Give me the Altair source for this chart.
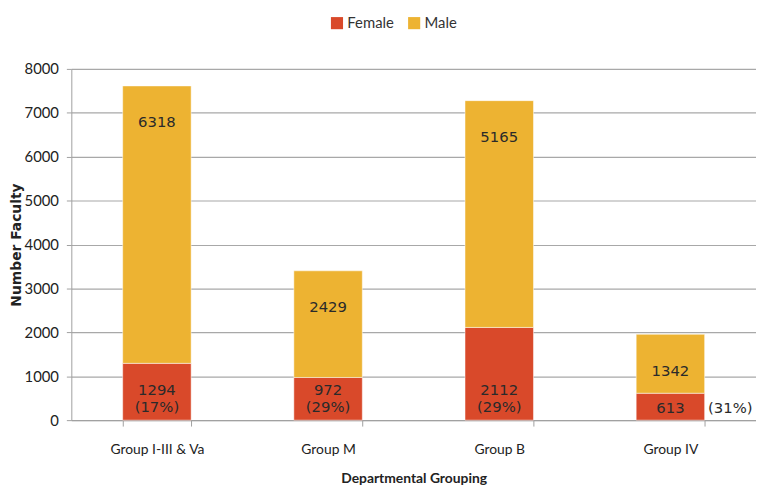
import altair as alt
import pandas as pd

groups = ["Group I-III & Va", "Group M", "Group B", "Group IV"]
female = [1294, 972, 2112, 613]
male = [6318, 2429, 5165, 1342]
female_pct = ["(17%)", "(29%)", "(29%)", "(31%)"]

rows = []
for g, f, m, p in zip(groups, female, male, female_pct):
    rows.append({"group": g, "sex": "Female", "value": f, "ord": 0, "total": f + m, "pct": p, "label": str(f)})
    rows.append({"group": g, "sex": "Male", "value": m, "ord": 1, "total": f + m, "pct": p, "label": str(m)})
df = pd.DataFrame(rows)

NARROW = "Lato"
LABELFONT = "DejaVu Sans"

xenc = alt.X("group:N", sort=groups, title="Departmental Grouping",
             scale=alt.Scale(paddingInner=0.6, paddingOuter=0.3),
             axis=alt.Axis(labelAngle=0, labelFont=NARROW, labelFontSize=14, labelColor="#222222",
                           labelPadding=17, tickBand="extent", tickSize=6, tickColor="#a0a0a0",
                           domainColor="#a0a0a0", titleFont=NARROW, titleFontSize=14,
                           titleFontWeight="bold", titleColor="#222222", titlePadding=15, grid=False))

base = alt.Chart(df)

bars = base.mark_bar(stroke="white", strokeWidth=0.5).encode(
    x=xenc,
    y=alt.Y("value:Q", stack="zero", title="Number Faculty",
            scale=alt.Scale(domain=[0, 8000], nice=False),
            axis=alt.Axis(values=list(range(0, 8001, 1000)), format="d", labelFont=NARROW, labelFontSize=15,
                          labelColor="#222222", labelPadding=8, tickSize=5, tickColor="#a0a0a0",
                          domainColor="#a0a0a0", gridColor="#a8a8a8", gridWidth=1.2,
                          titleFont=LABELFONT, titleFontSize=14, titleFontWeight="bold",
                          titleColor="#222222", titleX=-48)),
    color=alt.Color("sex:N", scale=alt.Scale(domain=["Female", "Male"], range=["#d9492a", "#edb332"]),
                    legend=alt.Legend(title=None, orient="none", direction="horizontal",
                                      legendX=261, legendY=-54, symbolType="square", symbolSize=150,
                                      symbolStrokeWidth=0, labelFont=NARROW, labelFontSize=15,
                                      labelColor="#333333", labelOffset=3, columnPadding=12, padding=0)),
    order=alt.Order("ord:Q"),
)

male_lbl = base.transform_filter(alt.datum.sex == "Male").mark_text(
    font=LABELFONT, fontSize=15, color="#2a2a2a", baseline="middle", dy=37
).encode(x=alt.X("group:N", sort=groups), y=alt.Y("total:Q"), text="label:N")

fem = base.transform_filter(alt.datum.sex == "Female")
fem_main = fem.transform_filter(alt.datum.group != "Group IV")
fem_iv = fem.transform_filter(alt.datum.group == "Group IV")

fem_num = fem_main.mark_text(font=LABELFONT, fontSize=15, color="#2a2a2a", baseline="middle", dy=-30).encode(
    x=alt.X("group:N", sort=groups), y=alt.datum(0), text="label:N")
fem_pct = fem_main.mark_text(font=LABELFONT, fontSize=15, color="#2a2a2a", baseline="middle", dy=-13).encode(
    x=alt.X("group:N", sort=groups), y=alt.datum(0), text="pct:N")
iv_num = fem_iv.mark_text(font=LABELFONT, fontSize=15, color="#2a2a2a", baseline="middle", dy=-12).encode(
    x=alt.X("group:N", sort=groups), y=alt.datum(0), text="label:N")
iv_pct = fem_iv.mark_text(font=LABELFONT, fontSize=15, color="#2a2a2a", baseline="middle", align="left",
                          dx=38, dy=-12).encode(
    x=alt.X("group:N", sort=groups), y=alt.datum(0), text="pct:N")

chart = alt.layer(bars, male_lbl, fem_num, fem_pct, iv_num, iv_pct).properties(
    width=692, height=355,
    autosize=alt.AutoSizeParams(type="none"),
    padding={"left": 64, "top": 59, "right": 0, "bottom": 63},
).configure_view(stroke=None)

chart.save("out.html", embed_options={"renderer": "svg", "actions": False})
